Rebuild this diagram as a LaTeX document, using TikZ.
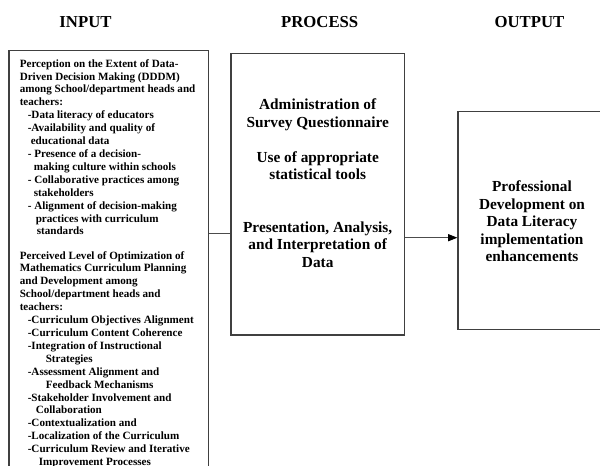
\documentclass[tikz,border=0pt]{standalone}
\usepackage{fontspec}
\setmainfont{Liberation Serif}
\usetikzlibrary{arrows.meta}
\tikzset{
  blk/.style={draw=black!75,line width=0.9pt,rectangle,inner sep=0pt},
  hdr/.style={font=\fontsize{11.9}{14}\selectfont\bfseries,inner sep=0pt,anchor=base},
  listtxt/.style={font=\fontsize{7.9}{9.18}\selectfont\bfseries,align=left,inner sep=0pt,anchor=north west},
  boxtxt/.style={font=\fontsize{10.9}{12.45}\selectfont\bfseries,align=center,inner sep=0pt,anchor=north},
  lnk/.style={draw=black!70,line width=0.6pt},
  arr/.style={lnk,-{Triangle[length=6.5pt,width=5pt,fill=black,color=black]}}
}

\begin{document}
\begin{tikzpicture}[x=0.025cm,y=-0.025cm]
  \useasboundingbox (0,0) rectangle (600,466);
  \clip (0,0) rectangle (600,466);

  % column heads
  \node[hdr] (hin) at (85.5,27.3) {INPUT};
  \node[hdr] (hproc) at (319.7,27.3) {PROCESS};
  \node[hdr] (hout) at (529.5,27.3) {OUTPUT};

  % frames
  \node[blk,minimum width=4.99cm,minimum height=10.98cm] (inbox) at (108.75,270.35) {};
  \node[blk,minimum width=4.33cm,minimum height=7.04cm] (procbox) at (317.65,194.15) {};
  \node[blk,minimum width=4.05cm,minimum height=5.44cm] (outbox) at (539,220.5) {};

  % input lists
  \node[listtxt] (percep) at (19.5,59) {Perception on the Extent of Data-\\
    Driven Decision Making (DDDM)\\
    among School/department heads and\\
    teachers:\\
    \hspace*{5.7pt}-Data literacy of educators\\
    \hspace*{5.7pt}-Availability and quality of\\
    \hspace*{7.8pt}educational data\\
    \hspace*{5.7pt}- Presence of a decision-\\
    \hspace*{10pt}making culture within schools\\
    \hspace*{5.7pt}- Collaborative practices among\\
    \hspace*{10pt}stakeholders\\
    \hspace*{5.7pt}- Alignment of decision-making\\
    \hspace*{11.4pt}practices with curriculum\\
    \hspace*{12.1pt}standards};
  \node[listtxt] (optim) at (19.5,250.9) {Perceived Level of Optimization of\\
    Mathematics Curriculum Planning\\
    and Development among\\
    School/department heads and\\
    teachers:\\
    \hspace*{5.7pt}-Curriculum Objectives Alignment\\
    \hspace*{5.7pt}-Curriculum Content Coherence\\
    \hspace*{5.7pt}-Integration of Instructional\\
    \hspace*{18.5pt}Strategies\\
    \hspace*{5.7pt}-Assessment Alignment and\\
    \hspace*{18.5pt}Feedback Mechanisms\\
    \hspace*{5.7pt}-Stakeholder Involvement and\\
    \hspace*{11.4pt}Collaboration\\
    \hspace*{5.7pt}-Contextualization and\\
    \hspace*{5.7pt}-Localization of the Curriculum\\
    \hspace*{5.7pt}-Curriculum Review and Iterative\\
    \hspace*{13.5pt}Improvement Processes};

  % process and output texts
  \node[boxtxt] (proctxt) at (317.7,98.6) {Administration of\\Survey Questionnaire\\[12.45pt]
    Use of appropriate\\statistical tools\\[24.9pt]
    Presentation, Analysis,\\and Interpretation of\\Data};
  \node[boxtxt] (outtxt) at (532,180.5) {Professional\\Development on\\Data Literacy\\implementation\\enhancements};

  % connectors
  \coordinate (joina) at (0,233.3);
  \coordinate (joinb) at (0,237.7);
  \draw[lnk] (inbox.east |- joina) -- (procbox.west |- joina);
  \draw[arr] (procbox.east |- joinb) -- (outbox.west |- joinb);
\end{tikzpicture}
\end{document}
